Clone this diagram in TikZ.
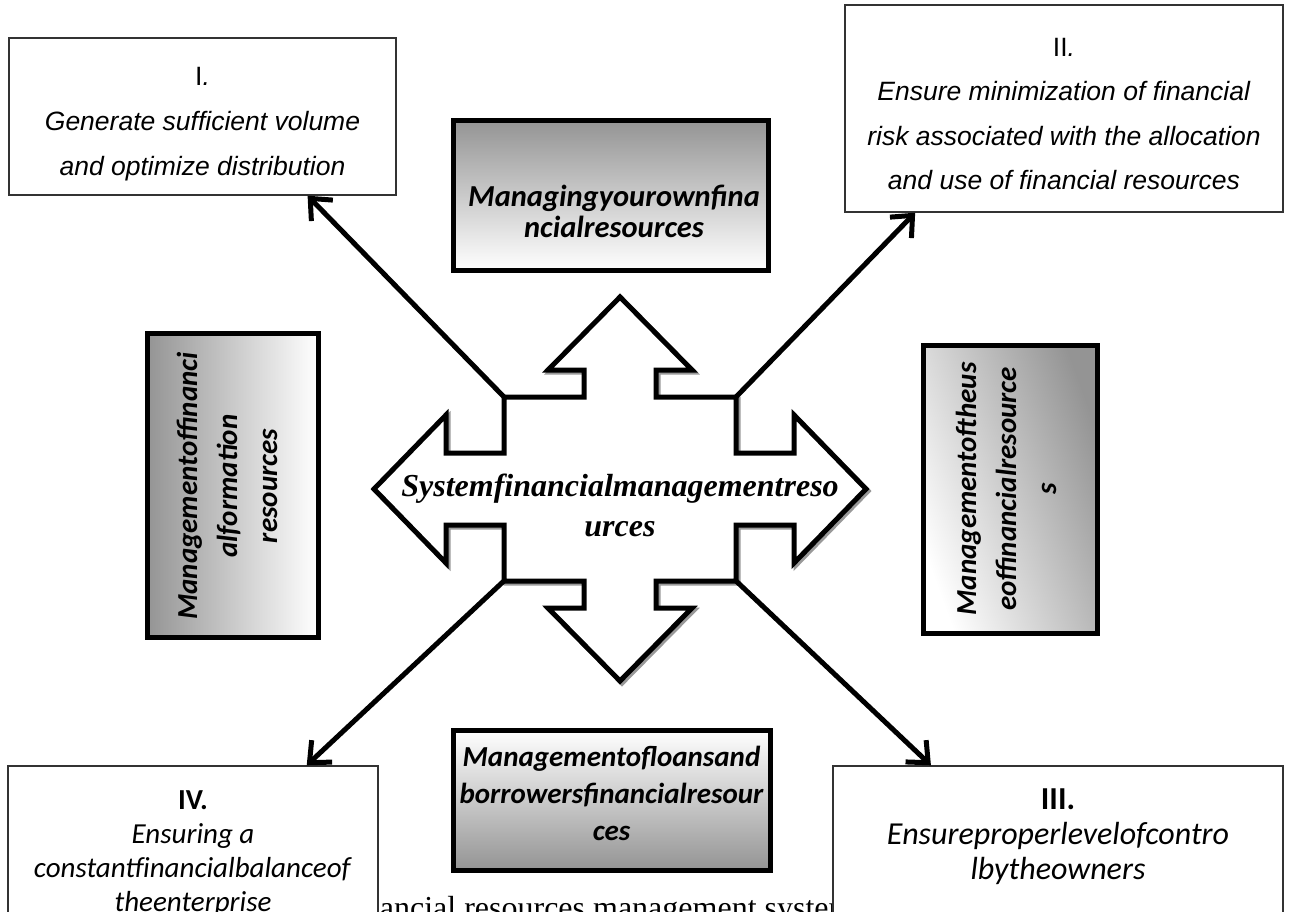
\documentclass[tikz,border=0pt]{standalone}
\usepackage{fontspec}
\newfontfamily\arialfont{Liberation Sans}
\newfontfamily\calibrifont{Carlito}
\newfontfamily\timesfont{Liberation Serif}
\usetikzlibrary{positioning,arrows.meta}
\tikzstyle{goal}=[
	rectangle,
	draw=black!80,
	line width=1.4pt,
	fill=white,
	inner sep=0pt]
\tikzstyle{area}=[
	rectangle,
	draw=black,
	line width=5pt,
	inner sep=0pt]
\tikzstyle{caption}=[
	align=center,
	text=black,
	inner sep=0pt]
\tikzstyle{link}=[
	line width=5pt,
	-{Straight Barb[length=17pt,width=30pt]}]

\begin{document}
\begin{tikzpicture}[x=1pt,y=-1pt]
	\useasboundingbox (0,0) rectangle (1293,911);
	\clip (0,0) rectangle (1293,911);

		% caption of the figure, mostly hidden behind the lower boxes
		\node (Caption) [anchor=base west, inner sep=0pt, font=\timesfont\fontsize{32}{38}\selectfont] at (337,918) {Financial resources management system};

		% the cross in the middle
		\foreach \d/\c in {2/black!40,0/black}
			\draw[line width=5pt, draw=\c, fill=white, shift={(\d,\d)}]
				(620,297) -- (692,370) -- (656,370) -- (656,397) -- (736,397) -- (736,453) -- (794,453) -- (794,415)
				-- (866,489) -- (794,563) -- (794,525) -- (736,525) -- (736,581) -- (656,581) -- (656,608) -- (692,608)
				-- (620,681) -- (548,608) -- (584,608) -- (584,581) -- (504,581) -- (504,525) -- (446,525) -- (446,563)
				-- (374,489) -- (446,415) -- (446,453) -- (504,453) -- (504,397) -- (584,397) -- (584,370) -- (548,370) -- cycle;
		\coordinate (CrossNW) at (506,399);
		\coordinate (CrossNE) at (734,399);
		\coordinate (CrossSW) at (506,579);
		\coordinate (CrossSE) at (734,579);
		\node (System) [caption, font=\timesfont\bfseries\itshape\fontsize{32}{40}\selectfont] at (620,505) {Systemfinancialmanagementreso\\urces};

		% goals
		\node (Goal1) [goal, minimum width=387pt, minimum height=157pt] at (202.5,116.5) {};
		\node (Goal1Text) [caption, font=\arialfont\fontsize{26.5}{45}\selectfont] at (202.5,124) {
			I\textit{.}\\
			\textit{Generate sufficient volume}\\
			\textit{and optimize distribution}
		};

		\node (Goal2) [goal, minimum width=438pt, minimum height=207pt] at (1064,108.5) {};
		\node (Goal2Text) [caption, font=\arialfont\fontsize{26.5}{44.5}\selectfont] at (1064,114) {
			II\textit{.}\\
			\textit{Ensure minimization of financial}\\
			\textit{risk associated with the allocation}\\
			\textit{and use of financial resources}
		};

		\node (Goal4) [goal, minimum width=370pt, minimum height=170pt] at (193,851) {};
		\node (Goal4Text) [caption, anchor=north, below=25pt of Goal4.north, font=\calibrifont\fontsize{29}{34}\selectfont] {
			\textbf{IV.}\\
			\textit{Ensuring a}\\
			\textit{constantfinancialbalanceof}\\
			\textit{theenterprise}
		};

		\node (Goal3) [goal, minimum width=450pt, minimum height=170pt] at (1058,851) {};
		\node (Goal3Text) [caption, anchor=north, below=23pt of Goal3.north, font=\calibrifont\fontsize{32}{35}\selectfont] {
			\textbf{III.}\\
			\textit{Ensureproperlevelofcontro}\\
			\textit{lbytheowners}
		};

		% resources
		\node (OwnRes) [area, top color=black!42, bottom color=white, minimum width=315pt, minimum height=150pt] at (610.5,195) {};
		\node (OwnResText) [caption, font=\calibrifont\bfseries\itshape\fontsize{30.5}{31}\selectfont] at (614,211) {Managingyourownfina\\ncialresources};

		\node (InfoRes) [area, left color=black!42, right color=white, minimum width=171pt, minimum height=304pt] at (232.5,485) {};
		\node (InfoResText) [caption, rotate=90, font=\calibrifont\bfseries\itshape\fontsize{29}{40}\selectfont] at (227,486) {Managementoffinanci\\alformation\\resources};

		\node (UseRes) [area, left color=white, right color=black!42, shading angle=110, minimum width=174pt, minimum height=288pt] at (1010,489) {};
		\node (UseResText) [caption, rotate=90, font=\calibrifont\bfseries\itshape\fontsize{29}{40}\selectfont] at (1006,489) {Managementoftheus\\eoffinancialresource\\s};

		\node (LoanRes) [area, top color=white, bottom color=black!42, minimum width=317pt, minimum height=140pt] at (611.5,800) {};
		\node (LoanResText) [caption, font=\calibrifont\bfseries\itshape\fontsize{29}{37}\selectfont] at (611.5,793) {Managementofloansand\\borrowersfinancialresour\\ces};

		% links from the centre to the goals
		\draw[link] (CrossNW) -- (Goal1.-37);
		\draw[link] (CrossNE) -- (Goal2.215);
		\draw[link] (CrossSW) -- (Goal4.37);
		\draw[link] (CrossSE) -- (Goal3.146);

\end{tikzpicture}
\end{document}
